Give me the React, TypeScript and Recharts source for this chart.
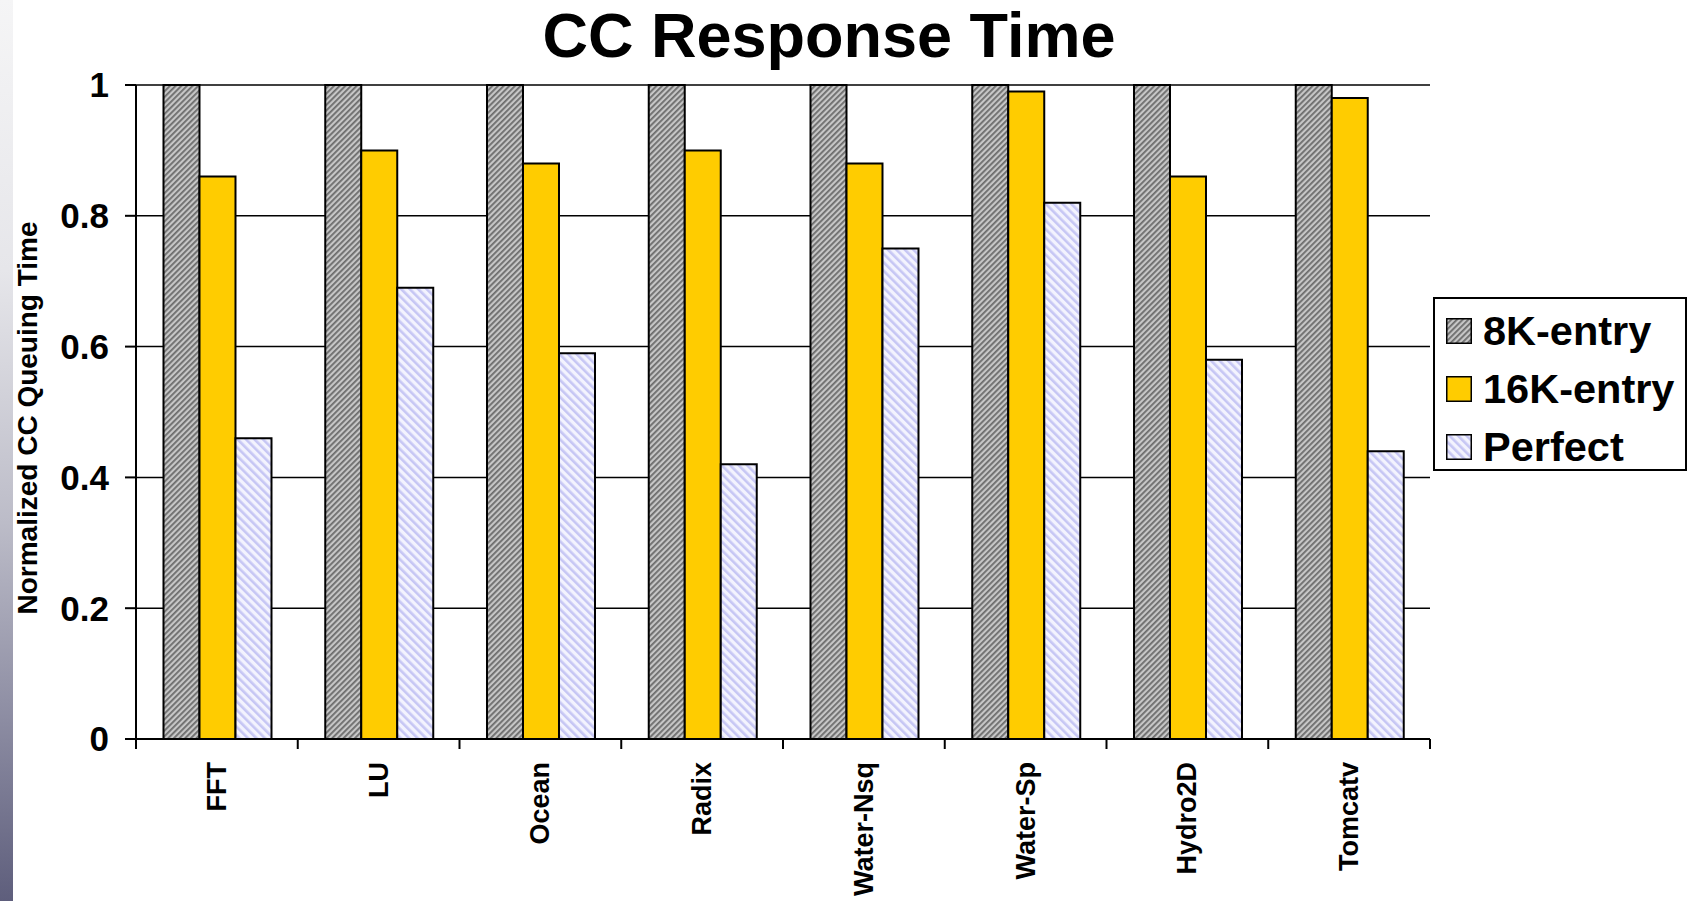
import React from 'react';
import { BarChart, Bar, XAxis, YAxis, CartesianGrid } from 'recharts';

const categories = ['FFT', 'LU', 'Ocean', 'Radix', 'Water-Nsq', 'Water-Sp', 'Hydro2D', 'Tomcatv'];
const entry8K = [1, 1, 1, 1, 1, 1, 1, 1];
const entry16K = [0.86, 0.9, 0.88, 0.9, 0.88, 0.99, 0.86, 0.98];
const perfect = [0.46, 0.69, 0.59, 0.42, 0.75, 0.82, 0.58, 0.44];
const yTicks = [0, 0.2, 0.4, 0.6, 0.8, 1];
const seriesNames = ['8K-entry', '16K-entry', 'Perfect'];
const seriesKeys = ['k8', 'k16', 'perfect'];

const data = categories.map((name, i) => ({
  name,
  k8: entry8K[i],
  k16: entry16K[i],
  perfect: perfect[i],
}));

const FONT = "'Liberation Sans', Arial, Helvetica, sans-serif";
const W = 1688;
const H = 901;
const MARGIN = { top: 85, right: 258, bottom: 22, left: 36 };
const Y_AXIS_W = 100;
const X_AXIS_H = 140;
const BAND = (W - MARGIN.left - Y_AXIS_W - MARGIN.right) / categories.length;

function Patterns({ prefix }: { prefix: string }) {
  return (
    <defs>
      <pattern id={`${prefix}-gray`} width="4" height="4" patternUnits="userSpaceOnUse" patternTransform="rotate(45)">
        <rect width="4" height="4" fill="#c6c6c6" />
        <rect width="1.8" height="4" fill="#6c6c6c" />
      </pattern>
      <pattern id={`${prefix}-lav`} width="6" height="6" patternUnits="userSpaceOnUse" patternTransform="rotate(-45)">
        <rect width="6" height="6" fill="#f3f3fe" />
        <rect width="2.6" height="6" fill="#c6c6f4" />
      </pattern>
    </defs>
  );
}

const fills = (prefix: string) => [`url(#${prefix}-gray)`, '#FFCC00', `url(#${prefix}-lav)`];

function XTick(props: any) {
  const { x, y, payload, index } = props;
  const half = payload && typeof payload.offset === 'number' && payload.offset > 0 ? payload.offset : BAND / 2;
  const ty = y + 23;
  return (
    <g>
      <line x1={x - half} x2={x - half} y1={y} y2={y + 10} stroke="#000" strokeWidth={2} />
      {index === categories.length - 1 && (
        <line x1={x + half} x2={x + half} y1={y} y2={y + 10} stroke="#000" strokeWidth={2} />
      )}
      <text
        x={x}
        y={ty}
        transform={`rotate(-90, ${x}, ${ty})`}
        textAnchor="end"
        dominantBaseline="central"
        fontFamily={FONT}
        fontWeight="bold"
        fontSize={27}
        fill="#000"
      >
        {payload.value}
      </text>
    </g>
  );
}

function LegendBox() {
  const f = fills('lg');
  return (
    <div
      style={{
        position: 'absolute',
        left: 1433,
        top: 297,
        width: 254,
        height: 174,
        boxSizing: 'border-box',
        border: '2px solid #000',
        background: '#fff',
      }}
    >
      <svg width={0} height={0} style={{ position: 'absolute' }}>
        <Patterns prefix="lg" />
      </svg>
      {seriesNames.map((n, i) => (
        <div
          key={n}
          style={{
            position: 'absolute',
            left: 11,
            top: 3 + i * 58,
            height: 58,
            display: 'flex',
            alignItems: 'center',
          }}
        >
          <svg width={26} height={26} style={{ display: 'block' }}>
            <rect x={0.75} y={0.75} width={24.5} height={24.5} fill={f[i]} stroke="#000" strokeWidth={1.5} />
          </svg>
          <span
            style={{
              marginLeft: 11,
              fontFamily: FONT,
              fontWeight: 'bold',
              fontSize: 41.5,
              color: '#000',
              lineHeight: 1,
              whiteSpace: 'nowrap',
            }}
          >
            {n}
          </span>
        </div>
      ))}
    </div>
  );
}

export default function App() {
  const f = fills('ch');
  return (
    <div style={{ position: 'absolute', left: 0, top: 0, width: W, height: H, background: '#fff', overflow: 'hidden' }}>
      <div
        style={{
          position: 'absolute',
          left: 0,
          top: 0,
          width: 13,
          height: H,
          background: 'linear-gradient(to bottom, #f5f5f6 0%, #e6e6ea 30%, #bcbcc8 58%, #8c8ca2 80%, #5e5e7c 100%)',
        }}
      />
      <div style={{ position: 'absolute', left: 0, top: 0 }}>
        <BarChart width={W} height={H} data={data} margin={MARGIN} barCategoryGap="17%" barGap={0}>
          <Patterns prefix="ch" />
          <CartesianGrid vertical={false} stroke="#000" strokeWidth={1.5} />
          <XAxis
            dataKey="name"
            height={X_AXIS_H}
            interval={0}
            tickSize={0}
            tickMargin={0}
            tickLine={false}
            axisLine={{ stroke: '#000', strokeWidth: 2 }}
            tick={<XTick />}
          />
          <YAxis
            width={Y_AXIS_W}
            domain={[0, 1]}
            ticks={yTicks}
            interval={0}
            tickSize={11}
            tickMargin={16}
            axisLine={{ stroke: '#000', strokeWidth: 2 }}
            tickLine={{ stroke: '#000', strokeWidth: 2 }}
            tick={{ fill: '#000', fontSize: 35, fontWeight: 'bold', fontFamily: FONT }}
          />
          {seriesKeys.map((k, i) => (
            <Bar key={k} dataKey={k} name={seriesNames[i]} fill={f[i]} stroke="#000" strokeWidth={2} isAnimationActive={false} />
          ))}
        </BarChart>
      </div>
      <svg width={W} height={H} style={{ position: 'absolute', left: 0, top: 0, pointerEvents: 'none' }}>
        <text x={829} y={57} textAnchor="middle" fontFamily={FONT} fontWeight="bold" fontSize={63} fill="#000">
          CC Response Time
        </text>
        <text
          x={27}
          y={418}
          transform="rotate(-90, 27, 418)"
          textAnchor="middle"
          dominantBaseline="central"
          fontFamily={FONT}
          fontWeight="bold"
          fontSize={28}
          fill="#000"
        >
          Normalized CC Queuing Time
        </text>
      </svg>
      <LegendBox />
    </div>
  );
}
